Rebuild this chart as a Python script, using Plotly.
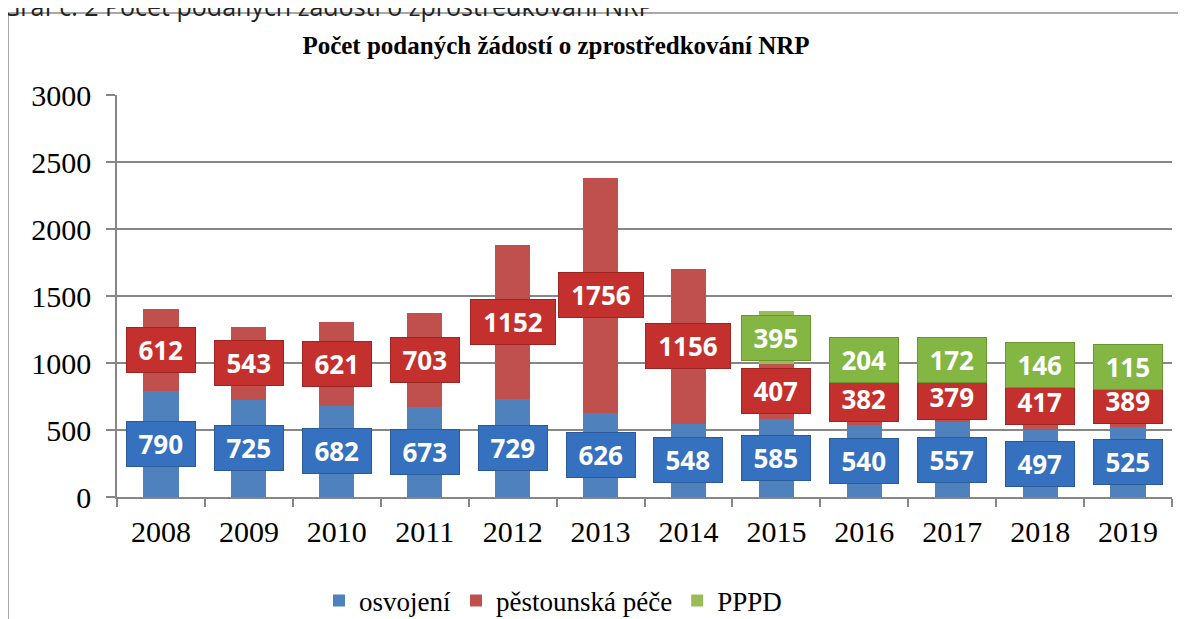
import plotly.graph_objects as go

years = ["2008", "2009", "2010", "2011", "2012", "2013", "2014", "2015", "2016", "2017", "2018", "2019"]
osvojeni = [790, 725, 682, 673, 729, 626, 548, 585, 540, 557, 497, 525]
pestounska = [612, 543, 621, 703, 1152, 1756, 1156, 407, 382, 379, 417, 389]
pppd = [None, None, None, None, None, None, None, 395, 204, 172, 146, 115]
y_ticks = [0, 500, 1000, 1500, 2000, 2500, 3000]

BAR_COLORS = ["#4F81BD", "#C0504D", "#9BBB59"]
LABEL_BG = ["#3571BE", "#C4302D", "#83B643"]
LABEL_BORDER = ["#2A5A99", "#9E2422", "#68962F"]
SERIF = "Liberation Serif, Times New Roman, serif"
LABEL_FONT = "Open Sans, Arial, sans-serif"

# plot area in figure pixels (page has an 8px body margin)
L, R, T, B = 109, 1164, 87, 489
PW, PH = R - L, B - T

fig = go.Figure()
series = [("osvojení", osvojeni), ("pěstounská péče", pestounska), ("PPPD", pppd)]
for i, (name, vals) in enumerate(series):
    fig.add_trace(go.Bar(
        x=years, y=vals, name=name, marker=dict(color=BAR_COLORS[i], line=dict(width=0)),
    ))

annotations = []
base = [0] * len(years)
for i, (name, vals) in enumerate(series):
    for j, v in enumerate(vals):
        if v is None:
            continue
        txt = str(v)
        annotations.append(dict(
            x=j, y=base[j] + v / 2, xref="x", yref="y", text=txt,
            showarrow=False, font=dict(family=LABEL_FONT, size=26, color="white", weight="bold"),
            bgcolor=LABEL_BG[i], bordercolor=LABEL_BORDER[i], borderwidth=1,
            borderpad=6, width=16.5 * len(txt) + 6, height=32,
        ))
        base[j] += v

# top caption (partially cut off)
annotations.append(dict(
    x=(-8 - L) / PW, y=(B + 2) / PH, xref="paper", yref="paper", xanchor="left", yanchor="middle",
    text="Graf č. 2 Počet podaných žádostí o zprostředkování NRP", showarrow=False,
    font=dict(family="Open Sans, Arial, sans-serif", size=25, color="#222222"),
))

fig.update_layout(
    barmode="stack",
    bargap=0.6,
    width=1186, height=619,
    margin=dict(l=L, r=1186 - R, t=T, b=619 - B, autoexpand=False),
    paper_bgcolor="white", plot_bgcolor="white",
    title=dict(text="<b>Počet podaných žádostí o zprostředkování NRP</b>",
               x=548 / 1186, xanchor="center", y=1 - 37 / 619, yanchor="middle",
               font=dict(family=SERIF, size=25, color="black")),
    legend=dict(orientation="h", x=(311 - L) / PW, xanchor="left", y=(B - 593) / PH, yanchor="middle",
                font=dict(family=SERIF, size=27, color="black"), traceorder="normal",
                itemsizing="constant"),
    xaxis=dict(type="category", range=[-0.5, len(years) - 0.5], tickson="boundaries",
               ticks="outside", ticklen=8, tickcolor="#868686",
               tickwidth=1.5, showline=True, linecolor="#868686", linewidth=1.5, showgrid=False,
               tickangle=0, ticklabelstandoff=7,
               tickfont=dict(family=SERIF, size=30, color="black")),
    yaxis=dict(range=[0, 3000], tickvals=y_ticks, ticks="outside", ticklen=9, tickcolor="#868686",
               tickwidth=1.5, showline=True, linecolor="#868686", linewidth=1.5,
               showgrid=True, gridcolor="#868686", gridwidth=1.5, zeroline=False,
               ticklabelstandoff=9,
               tickfont=dict(family=SERIF, size=30, color="black")),
    annotations=annotations,
    shapes=[dict(type="rect", xref="paper", yref="paper",
                 x0=(0 - L) / PW, x1=(1200 - L) / PW,
                 y0=(B - 700) / PH, y1=(B - 5) / PH,
                 line=dict(color="#8C8C8C", width=1.5), layer="below")],
)

fig.write_html("out.html")
